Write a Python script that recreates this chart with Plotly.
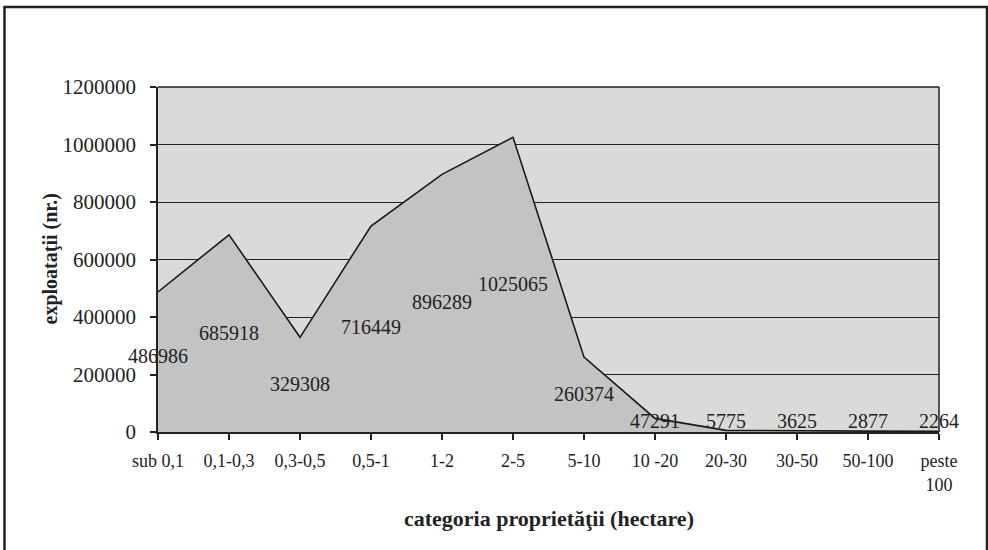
import plotly.graph_objects as go

categories = ["sub 0,1", "0,1-0,3", "0,3-0,5", "0,5-1", "1-2", "2-5", "5-10",
              "10 -20", "20-30", "30-50", "50-100", "peste<br>100"]
values = [486986, 685918, 329308, 716449, 896289, 1025065, 260374,
          47291, 5775, 3625, 2877, 2264]
y_ticks = [0, 200000, 400000, 600000, 800000, 1000000, 1200000]
x_title = "categoria proprietăţii (hectare)"
y_title = "exploataţii (nr.)"

# pixel offsets of the data labels below their points (styling only)
label_offsets = [64, 98, 47, 101, 128, 147, 37, 3, -9, -10, -10, -10]

FONT = "Liberation Serif, Times New Roman, serif"

fig = go.Figure()
fig.add_trace(go.Scatter(
    x=list(range(len(categories))), y=values, mode="lines",
    fill="tozeroy", fillcolor="#c3c3c3",
    line=dict(color="#1a1a1a", width=1.6),
    hoverinfo="skip", showlegend=False,
))

for i, (v, off) in enumerate(zip(values, label_offsets)):
    fig.add_annotation(x=i, y=v, text=str(v), showarrow=False,
                       yshift=-off, font=dict(family=FONT, size=20, color="#222"))

W, H = 988, 550
L, R, T, B = 158, 49, 87, 118
pw, ph = W - L - R, H - T - B


def px(x):
    return (x - L) / pw


def py(y):
    return (H - B - y) / ph


fig.add_shape(type="rect", xref="paper", yref="paper",
              x0=px(4.5), x1=px(987), y0=py(560), y1=py(7),
              line=dict(color="#222", width=2.5), fillcolor="rgba(0,0,0,0)",
              layer="below")

fig.add_annotation(xref="paper", yref="paper", x=0.5, y=py(518),
                   xanchor="center", yanchor="middle", showarrow=False,
                   text="<b>" + x_title + "</b>",
                   font=dict(family=FONT, size=22, color="#222"))
fig.add_annotation(xref="paper", yref="paper", x=px(50), y=0.5,
                   xanchor="center", yanchor="middle", showarrow=False,
                   textangle=-90, text="<b>" + y_title + "</b>",
                   font=dict(family=FONT, size=20, color="#222"))

fig.update_layout(
    width=W, height=H,
    margin=dict(l=L, r=R, t=T, b=B),
    paper_bgcolor="white", plot_bgcolor="#dadada",
    font=dict(family=FONT, size=18, color="#222"),
    xaxis=dict(
        tickmode="array", tickvals=list(range(len(categories))), ticktext=categories,
        range=[0, len(categories) - 1], showgrid=False, zeroline=False,
        showline=True, linecolor="#222", linewidth=1.5,
        ticks="outside", ticklen=6, tickcolor="#222", tickwidth=1.5,
        ticklabelstandoff=6,
        tickfont=dict(family=FONT, size=18),
    ),
    yaxis=dict(
        tickvals=y_ticks, range=[0, 1200000], tickformat="d",
        showgrid=True, gridcolor="#222", gridwidth=1.4, zeroline=False,
        showline=True, linecolor="#222", linewidth=1.5, mirror=False,
        ticks="outside", ticklen=6, tickcolor="#222", tickwidth=1.5,
        ticklabelstandoff=10,
        tickfont=dict(family=FONT, size=21),
    ),
)
fig.add_shape(type="line", xref="paper", yref="paper", x0=1, x1=1, y0=0, y1=1,
              line=dict(color="#222", width=1.5))
fig.add_shape(type="line", xref="paper", yref="paper", x0=0, x1=1, y0=1, y1=1,
              line=dict(color="#222", width=1.5))

fig.write_html("out.html", config={"displayModeBar": False},
               post_script="document.body.style.margin='0';")
